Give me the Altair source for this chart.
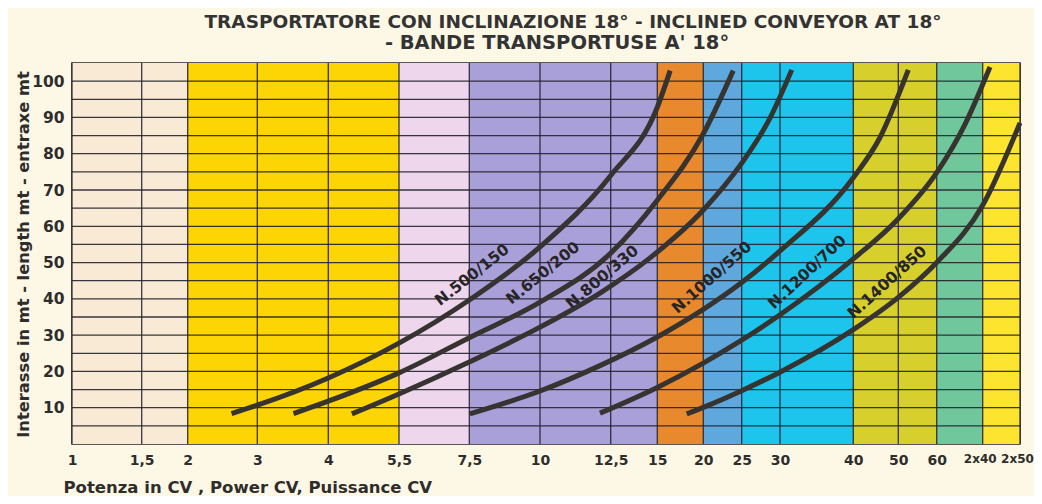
import altair as alt
import pandas as pd

# ---------------- data ----------------
x_ticks = [1, 1.5, 2, 3, 4, 5.5, 7.5, 10, 12.5, 15, 20, 25, 30, 40, 50, 60, 80, 100]
x_tick_labels = ["1", "1,5", "2", "3", "4", "5,5", "7,5", "10", "12,5", "15", "20",
                 "25", "30", "40", "50", "60", "2x40", "2x50"]
y_labels = [10, 20, 30, 40, 50, 60, 70, 80, 90, 100]
y_grid = [5, 10, 15, 20, 25, 30, 35, 40, 45, 50, 55, 60, 65, 70, 75, 80, 85, 90, 95, 100]

band_start = [1, 2, 5.5, 7.5, 15, 20, 25, 40, 60, 80]
band_end = [2, 5.5, 7.5, 15, 20, 25, 40, 60, 80, 100]
band_name = ["b1", "b2", "b3", "b4", "b5", "b6", "b7", "b8", "b9", "b10"]

curve_names = ["N.500/150", "N.650/200", "N.800/330", "N.1000/550", "N.1200/700", "N.1400/850"]
c500_x = [2.63, 3, 4, 5.5, 7.5, 10, 12.5, 15, 16.4]
c500_y = [8.4, 10.7, 18.2, 27.8, 39.7, 54.3, 74.0, 92.8, 102.9]
c650_x = [3.51, 4, 5.5, 7.5, 10, 12.5, 15, 20, 23.9]
c650_y = [8.4, 11.8, 19.6, 29.3, 39.1, 52.6, 67.2, 85.5, 102.9]
c800_x = [4.5, 5.5, 7.5, 10, 12.12, 14.61, 20, 25, 28.69, 31.6]
c800_y = [8.3, 13.8, 22.6, 32.2, 41.6, 51.3, 64.5, 77.4, 89.8, 103.1]
c1000_x = [7.52, 10, 12.12, 15, 20, 25, 30, 40, 45.9, 52.6]
c1000_y = [8.3, 14.6, 21.6, 29.5, 37.1, 44.5, 53.2, 73.4, 84.4, 103.1]
c1200_x = [12.12, 15, 20, 25, 30, 40, 50, 60, 72.3, 83.9]
c1200_y = [8.5, 15.6, 22.3, 28.6, 35.6, 51.0, 62.1, 74.8, 88.1, 103.9]
c1400_x = [18.2, 20, 25, 30, 40, 50, 60, 80, 100]
c1400_y = [8.3, 10.1, 14.7, 19.8, 31.5, 40.4, 50.0, 65.8, 88.5]

label_x = [7.6, 10.1, 12.2, 21.1, 33.7, 47.5]
label_y = [46.6, 47.1, 46.0, 45.9, 47.4, 44.6]
label_angle = [322, 321, 320, 318.5, 317, 318]

title1 = "TRASPORTATORE CON INCLINAZIONE 18° - INCLINED CONVEYOR AT 18°"
title2 = "- BANDE TRANSPORTUSE A' 18°"
y_title = "Interasse in mt - length mt - entraxe mt"
x_title = "Potenza in CV , Power CV, Puissance CV"

# ---------------- styles / layout ----------------
W, H = 948, 381
X_RANGE = [0, 69.7, 115.7, 185.3, 256.3, 327, 397.3, 468, 538.7, 585.3, 631.3,
           669.7, 708, 781.3, 826.3, 864.7, 910.7, 948]
BAND_COLORS = ["#F9EAD6", "#FDD404", "#EED6EC", "#A99FD9", "#E9892D",
               "#5EA8DD", "#1DC4EC", "#D7D02C", "#6FC79B", "#FDE42E"]
BG = "#FDF8E6"
INK = "#2f2d2c"
FONT = "DejaVu Sans"

xscale = alt.Scale(domain=x_ticks, range=X_RANGE, zero=False, nice=False)
yscale = alt.Scale(domain=[0, 105], nice=False, zero=False)

label_expr = "''"
for v, t in reversed(list(zip(x_ticks, x_tick_labels))):
    label_expr = f"datum.value == {v} ? '{t}' : ({label_expr})"

x_axis = alt.Axis(values=x_ticks, labelExpr=label_expr, grid=False, domain=False,
                  ticks=False, labelFlush=False, labelOverlap=False, labelFont=FONT,
                  labelFontSize=alt.ExprRef("datum.value >= 80 ? 12 : 14"),
                  labelOffset=alt.ExprRef("datum.value >= 80 ? -3 : 0"),
                  labelFontWeight="bold", labelColor=INK,
                  labelPadding=9, title=x_title, titleFont=FONT, titleFontSize=16.5,
                  titleFontWeight="bold", titleColor=INK, titleAnchor="start",
                  titleAlign="left", titleBaseline="middle", titleX=-9, titleY=43)
y_axis = alt.Axis(values=y_labels, grid=False, domain=False, ticks=False,
                  labelFont=FONT, labelFontSize=15.5, labelFontWeight="bold",
                  labelColor=INK, labelPadding=8, labelOverlap=False,
                  title=y_title, titleFont=FONT,
                  titleFontSize=16.3, titleFontWeight="bold", titleColor=INK,
                  titleAngle=270, titleAlign="center", titleBaseline="middle",
                  titleX=-49, titleY=191)

bands = pd.DataFrame({"start": band_start, "end": band_end, "band": band_name})
band_layer = alt.Chart(bands).mark_rect().encode(
    x=alt.X("start:Q", scale=xscale, axis=x_axis),
    x2="end:Q",
    y=alt.Y("y0:Q", scale=yscale, axis=y_axis),
    y2="y1:Q",
    color=alt.Color("band:N", scale=alt.Scale(domain=band_name, range=BAND_COLORS), legend=None),
).transform_calculate(y0="0", y1="105")

vrules = alt.Chart(pd.DataFrame({"x": x_ticks})).mark_rule(
    color="#23222c", strokeWidth=1.3, opacity=0.9
).encode(x=alt.X("x:Q", scale=xscale, axis=x_axis), y=alt.datum(0), y2=alt.datum(105))

hrules = alt.Chart(pd.DataFrame({"y": y_grid})).mark_rule(
    color="#23222c", strokeWidth=1.3, opacity=0.9
).encode(y=alt.Y("y:Q", scale=yscale, axis=y_axis), x=alt.datum(1), x2=alt.datum(100))

rows = []
for name, xs, ys in zip(curve_names,
                        [c500_x, c650_x, c800_x, c1000_x, c1200_x, c1400_x],
                        [c500_y, c650_y, c800_y, c1000_y, c1200_y, c1400_y]):
    for i, (a, b) in enumerate(zip(xs, ys)):
        rows.append({"curve": name, "x": a, "y": b, "o": i})
curves = alt.Chart(pd.DataFrame(rows)).mark_line(
    color="#363330", strokeWidth=5, strokeCap="butt", interpolate="monotone"
).encode(x=alt.X("x:Q", scale=xscale, axis=x_axis), y=alt.Y("y:Q", scale=yscale, axis=y_axis),
         detail="curve:N", order="o:Q")

lab_rows = [{"t": t, "x": a, "y": b, "a": g}
            for t, a, b, g in zip(curve_names, label_x, label_y, label_angle)]
labels = alt.Chart(pd.DataFrame(lab_rows)).mark_text(
    font=FONT, fontSize=15.5, fontWeight="bold", color="#262424"
).encode(x=alt.X("x:Q", scale=xscale, axis=x_axis), y=alt.Y("y:Q", scale=yscale, axis=y_axis),
         text="t:N", angle=alt.Angle("a:Q", scale=None))

titles = alt.Chart(pd.DataFrame({"t": [title1, title2], "px": [501, 485], "py": [-41, -20],
                                 "fs": [18.5, 19.5]})).mark_text(
    font=FONT, fontWeight="bold", color="#333333", baseline="middle"
).encode(x=alt.X("px:Q", scale=None), y=alt.Y("py:Q", scale=None), text="t:N",
         size=alt.Size("fs:Q", scale=None))

chart = alt.layer(band_layer, vrules, hrules, curves, labels, titles).properties(
    width=W, height=H,
    autosize=alt.AutoSizeParams(type="none"),
    padding={"left": 64, "top": 55, "right": 14, "bottom": 52},
    background=BG,
).configure_view(stroke="#23222c", strokeWidth=1.5, fill=None).configure_axis(labelOverlap=False)

chart.save("out.html", embed_options={"renderer": "svg", "actions": False})
